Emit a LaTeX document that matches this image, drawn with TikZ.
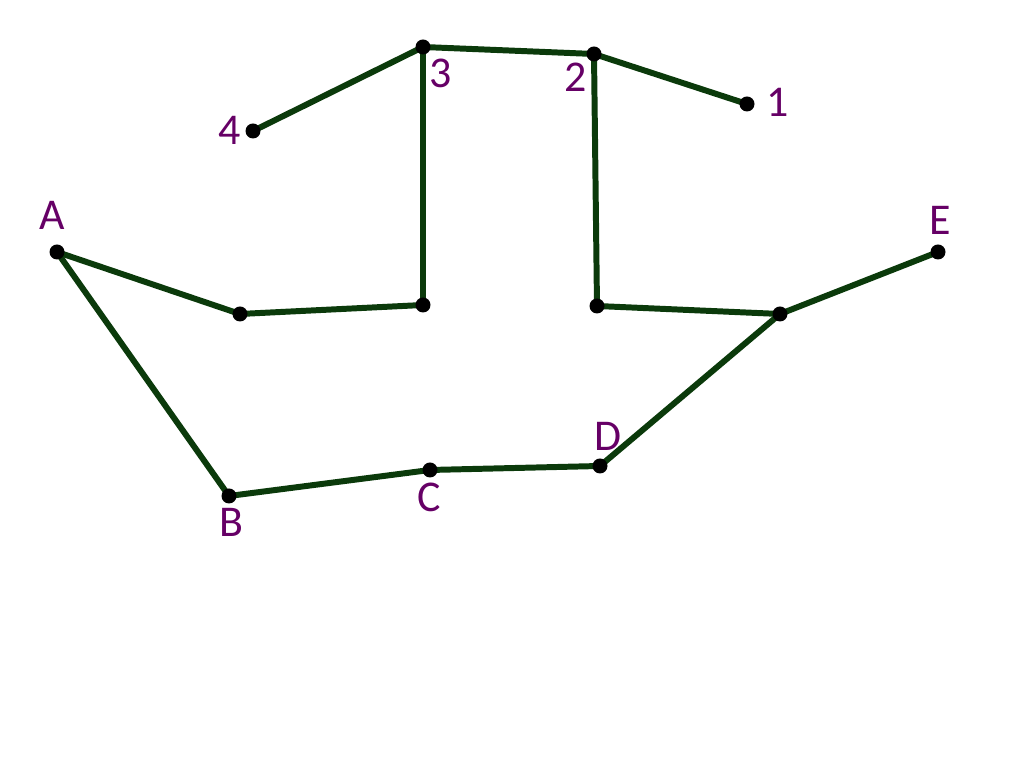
\documentclass[tikz,border=0pt]{standalone}
\usepackage{fontspec}
\setmainfont{Carlito}
\usepackage{tikz}
\usetikzlibrary{calc}
\definecolor{segcol}{HTML}{0B3A0B}
\definecolor{labcol}{HTML}{660066}
\tikzset{
  pt/.style={circle,inner sep=0pt,minimum size=0pt},
  lab/.style={text=labcol,font=\fontsize{12.5}{14}\selectfont},
  seg/.style={segcol,line width=1.7pt}
}

\begin{document}
\begin{tikzpicture}[scale=1, transform shape]
        \useasboundingbox (0,0) rectangle (10.24,7.68);
        % upper chain
        \node [pt] (p4) at (2.53,6.37) {};
        \node [pt] (p3) at (4.23,7.21) {};
        \node [pt] (p2) at (5.94,7.14) {};
        \node [pt] (p1) at (7.47,6.64) {};
        % middle row
        \node [pt] (a) at (0.57,5.16) {};
        \node [pt] (m1) at (2.40,4.54) {};
        \node [pt] (m2) at (4.23,4.63) {};
        \node [pt] (m3) at (5.97,4.62) {};
        \node [pt] (m4) at (7.80,4.54) {};
        \node [pt] (e) at (9.38,5.16) {};
        % lower row
        \node [pt] (b) at (2.29,2.72) {};
        \node [pt] (c) at (4.30,2.98) {};
        \node [pt] (d) at (6.00,3.02) {};
        \draw [seg] (p4) -- (p3) -- (p2) -- (p1);
        \draw [seg] (p3) -- (m2);
        \draw [seg] (p2) -- (m3);
        \draw [seg] (a) -- (m1) -- (m2);
        \draw [seg] (m3) -- (m4) -- (e);
        \draw [seg] (a) -- (b) -- (c) -- (d) -- (m4);
        \foreach \q in {p4,p3,p2,p1,a,m1,m2,m3,m4,e,b,c,d}
          \fill (\q) circle (0.075);
        % labels
        \node [lab] at (2.30,6.38) {4};
        \node [lab] at (4.41,6.95) {3};
        \node [lab] at (5.76,6.91) {2};
        \node [lab] at (7.78,6.66) {1};
        \node [lab] at (0.52,5.53) {A};
        \node [lab] at (9.40,5.48) {E};
        \node [lab] at (2.31,2.46) {B};
        \node [lab] at (4.29,2.71) {C};
        \node [lab] at (6.08,3.32) {D};
    \end{tikzpicture}
\end{document}
